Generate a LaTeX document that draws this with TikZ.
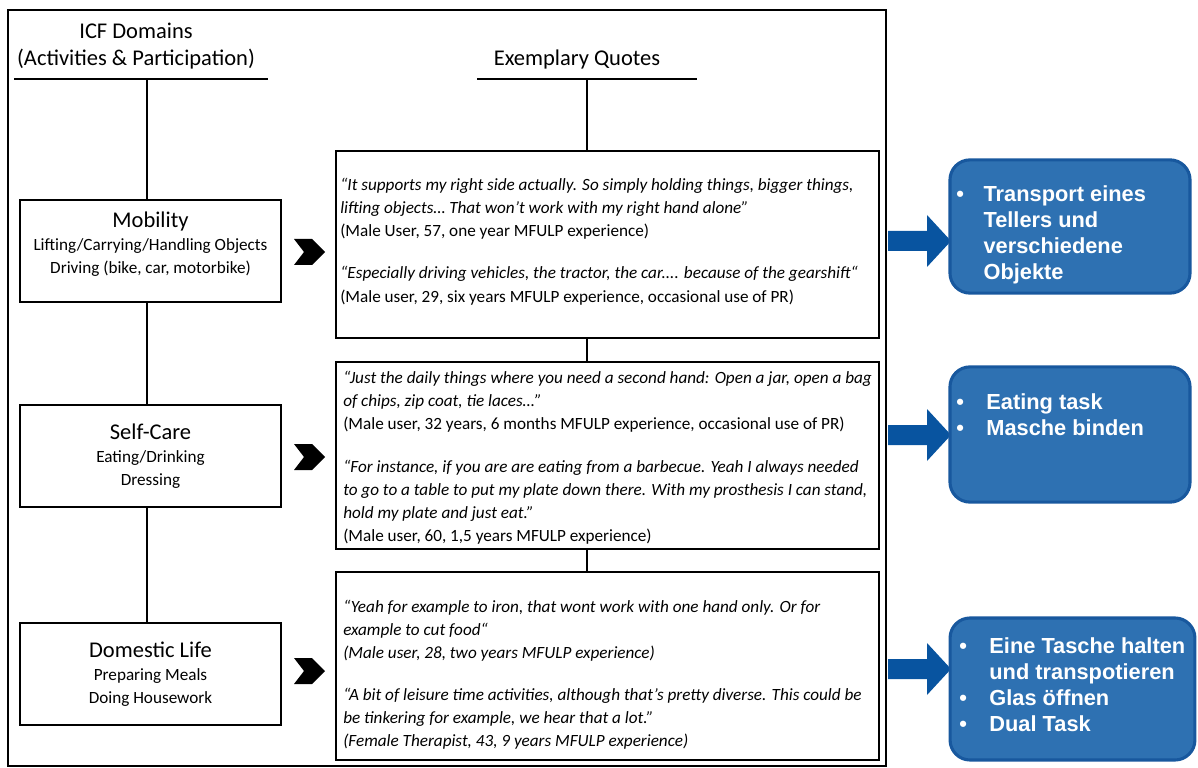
\documentclass[tikz,border=0pt]{standalone}
\usepackage{fontspec}
\setmainfont{Carlito}
\newfontfamily\arialfont{Liberation Sans}
\usepackage{tikz}

\definecolor{boxblue}{RGB}{46,113,178}
\definecolor{rimblue}{RGB}{24,88,158}
\definecolor{arrowblue}{RGB}{8,84,160}

\newcommand{\bigsize}{\fontsize{16}{20}\selectfont}
\newcommand{\smallsize}{\fontsize{12.2}{16.4}\selectfont}

\tikzset{
  domainbox/.style={draw=black, line width=1.3pt, minimum width=6.52cm, minimum height=2.55cm, align=center, inner sep=0pt, font=\smallsize},
  quotebox/.style={draw=black, line width=1.3pt, minimum width=13.57cm, minimum height=4.68cm, inner sep=0pt},
  quotetext/.style={anchor=north west, align=left, inner sep=0pt, font=\smallsize},
  header/.style={align=center, inner sep=0pt, font=\fontsize{16}{19}\selectfont},
  taskbox/.style={draw=rimblue, fill=boxblue, line width=2.2pt, rounded corners=0.5cm, inner sep=0pt},
  tasktext/.style={anchor=north west, inner sep=0pt, text=white, font=\arialfont\bfseries\fontsize{15.5}{18.5}\selectfont}
}

\begin{document}
\begin{tikzpicture}[x=0.025cm, y=-0.025cm]
    \useasboundingbox (0, 0) rectangle (1198, 768);

    % cadre
    \draw[line width=1.4pt] (8, 10) rectangle (886, 766);

    % titres
    \node[header] (icf) at (136, 46) {ICF Domains\\(Activities \& Participation)};
    \node[header] (quotes) at (577, 60) {Exemplary Quotes};
    \draw[line width=1.1pt] (14, 79) -- (268, 79);
    \draw[line width=1.1pt] (477, 79) -- (697, 79);
    \coordinate (icfbar) at (147, 79);
    \coordinate (quotesbar) at (587, 79);

    % domaines
    \node[domainbox, text depth=11.6pt] (mob) at (150.5, 251) {\bigsize Mobility\\
      Lifting/Carrying/Handling Objects\\Driving (bike, car, motorbike)};
    \node[domainbox] (self) at (150.5, 456) {\bigsize Self-Care\\
      Eating/Drinking\\Dressing};
    \node[domainbox] (dom) at (150.5, 674) {\bigsize Domestic Life\\
      Preparing Meals\\Doing Housework};

    \draw[line width=1.1pt] (icfbar) -- (mob.north -| icfbar);
    \draw[line width=1.1pt] (mob.south -| icfbar) -- (self.north -| icfbar);
    \draw[line width=1.1pt] (self.south -| icfbar) -- (dom.north -| icfbar);

    % citations
    \node[quotebox] (q1) at (607.5, 244.5) {};
    \node[quotebox] (q2) at (607.5, 455.5) {};
    \node[quotebox] (q3) at (607.5, 666) {};

    \draw[line width=1.1pt] (quotesbar) -- (q1.north -| quotesbar);
    \draw[line width=1.1pt] (q1.south -| quotesbar) -- (q2.north -| quotesbar);
    \draw[line width=1.1pt] (q2.south -| quotesbar) -- (q3.north -| quotesbar);

    \node[quotetext] (t1) at (340, 178) {\itshape “It supports my right side actually. So simply holding things, bigger things,\\
      \itshape lifting objects… That won’t work with my right hand alone”\\
      (Male User, 57, one year MFULP experience)\\[13pt]
      \itshape “Especially driving vehicles, the tractor, the car.... because of the gearshift“\\[1pt]
      (Male user, 29, six years MFULP experience, occasional use of PR)};
    \node[quotetext] (t2) at (343, 371) {\itshape “Just the daily things where you need a second hand: Open a jar, open a bag\\
      \itshape of chips, zip coat, tie laces…”\\
      (Male user, 32 years, 6 months MFULP experience, occasional use of PR)\\[14pt]
      \itshape “For instance, if you are are eating from a barbecue. Yeah I always needed\\
      \itshape to go to a table to put my plate down there. With my prosthesis I can stand,\\
      \itshape hold my plate and just eat.”\\
      (Male user, 60, 1,5 years MFULP experience)};
    \node[quotetext] (t3) at (343, 600) {\itshape “Yeah for example to iron, that wont work with one hand only. Or for\\
      \itshape example to cut food“\\
      \itshape (Male user, 28, two years MFULP experience)\\[13pt]
      \itshape “A bit of leisure time activities, although that’s pretty diverse. This could be\\
      \itshape be tinkering for example, we hear that a lot.”\\
      \itshape (Female Therapist, 43, 9 years MFULP experience)};

    % chevrons
    \foreach \cy in {252, 457, 671} {
      \fill (294, \cy-13) -- (312, \cy-13) -- (325, \cy) -- (312, \cy+13) -- (294, \cy+13) -- (304, \cy) -- cycle;
    }

    % fleches bleues
    \foreach \ay in {241, 435, 669} {
      \fill[arrowblue] (888, \ay-10) -- (927, \ay-10) -- (927, \ay-26) -- (951, \ay) -- (927, \ay+26) -- (927, \ay+10) -- (888, \ay+10) -- cycle;
    }

    % taches
    \node[taskbox, minimum width=6cm, minimum height=3.33cm] (task1) at (1070, 226.5) {};
    \node[taskbox, minimum width=6cm, minimum height=3.38cm] (task2) at (1070, 434.5) {};
    \node[taskbox, minimum width=6.12cm, minimum height=3.55cm] (task3) at (1072.5, 689) {};

    \node[tasktext] (list1) at (956, 183) {\begin{tabular}{@{}l@{\hspace{14pt}}l@{}}
      • & Transport eines\\ & Tellers und\\ & verschiedene\\ & Objekte\end{tabular}};
    \node[tasktext] (list2) at (956, 391) {\begin{tabular}{@{}l@{\hspace{16pt}}l@{}}
      • & Eating task\\ • & Masche binden\end{tabular}};
    \node[tasktext] (list3) at (959, 635) {\begin{tabular}{@{}l@{\hspace{16pt}}l@{}}
      • & Eine Tasche halten\\ & und transpotieren\\ • & Glas öffnen\\ • & Dual Task\end{tabular}};

  \end{tikzpicture}
\end{document}
